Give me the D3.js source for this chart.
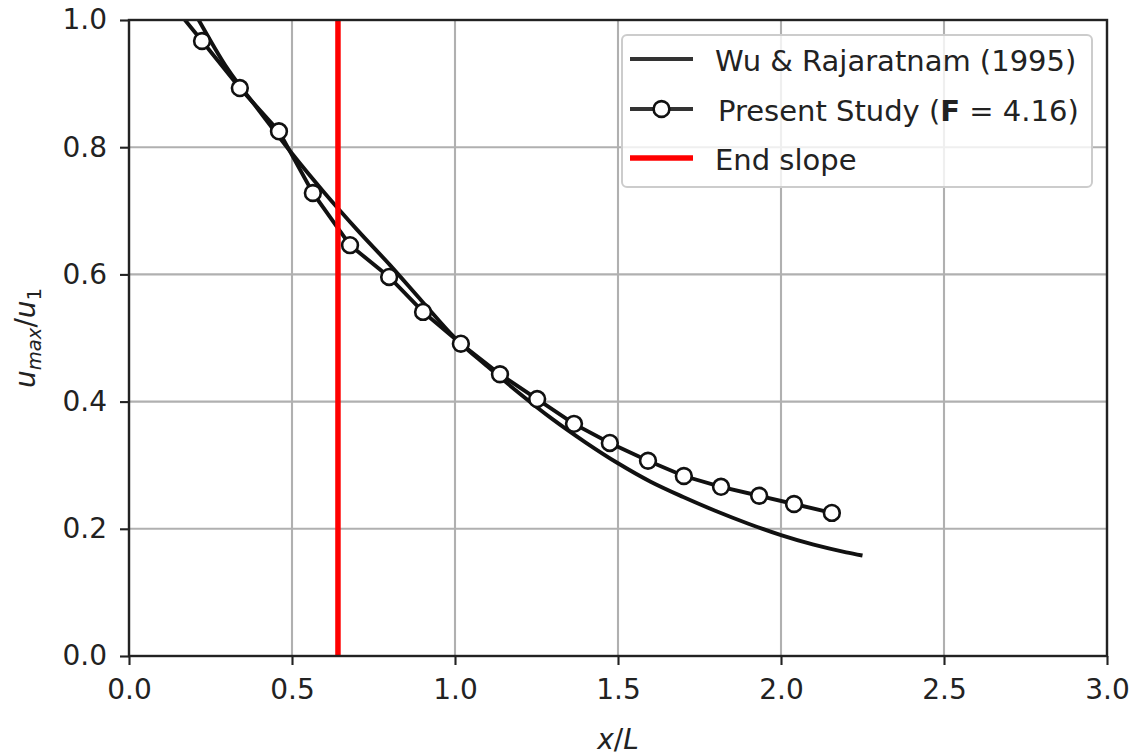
<!DOCTYPE html>
<html>
<head>
<meta charset="utf-8">
<script src="https://cdn.jsdelivr.net/npm/d3@7"></script>
<style>
  html, body { margin: 0; padding: 0; background: #fff; }
  svg { display: block; }
  text { font-family: "DejaVu Sans", sans-serif; fill: #222; }
</style>
</head>
<body>
<svg id="chart" width="1134" height="756"></svg>
<script>
// ---- data ----
const xTicks = [0.0, 0.5, 1.0, 1.5, 2.0, 2.5, 3.0];
const yTicks = [0.0, 0.2, 0.4, 0.6, 0.8, 1.0];

const wuX = [0.15, 0.2, 0.3, 0.4, 0.5, 0.6, 0.7, 0.8, 0.9, 1.0, 1.1, 1.2, 1.3, 1.4, 1.5, 1.6, 1.7, 1.8, 1.9, 2.0, 2.1, 2.2, 2.25];
const wuY = [1.055, 1.012, 0.925, 0.857, 0.79, 0.728, 0.670, 0.615, 0.557, 0.500, 0.455, 0.412, 0.372, 0.336, 0.303, 0.274, 0.250, 0.228, 0.208, 0.190, 0.175, 0.163, 0.158];

const presX = [0.108, 0.224, 0.340, 0.460, 0.564, 0.678, 0.798, 0.902, 1.018, 1.138, 1.252, 1.365, 1.475, 1.592, 1.702, 1.816, 1.933, 2.040, 2.156];
const presY = [1.04, 0.967, 0.893, 0.825, 0.728, 0.646, 0.596, 0.541, 0.491, 0.443, 0.404, 0.365, 0.335, 0.307, 0.283, 0.266, 0.252, 0.239, 0.225];

const endSlopeX = 0.641;

const legendLabels = ["Wu & Rajaratnam (1995)", "Present Study", "End slope"];

// ---- layout ----
const svg = d3.select("#chart");
const L = 129, R = 1107, T = 20, B = 656;
const x = d3.scaleLinear().domain([0, 3]).range([L, R]);
const y = d3.scaleLinear().domain([0, 1]).range([B, T]);

svg.append("defs").append("clipPath").attr("id", "plotclip")
  .append("rect").attr("x", L).attr("y", T).attr("width", R - L).attr("height", B - T);

// grid
const grid = svg.append("g");
grid.selectAll(".gx").data(xTicks).join("line")
  .attr("x1", d => x(d)).attr("x2", d => x(d)).attr("y1", T).attr("y2", B)
  .attr("stroke", "#b0b0b0").attr("stroke-width", 2.1);
grid.selectAll(".gy").data(yTicks).join("line")
  .attr("y1", d => y(d)).attr("y2", d => y(d)).attr("x1", L).attr("x2", R)
  .attr("stroke", "#b0b0b0").attr("stroke-width", 2.1);

const plot = svg.append("g").attr("clip-path", "url(#plotclip)");

// Wu & Rajaratnam curve
const wuData = wuX.map((v, i) => [v, wuY[i]]);
const line = d3.line().x(d => x(d[0])).y(d => y(d[1]));
plot.append("path").datum(wuData)
  .attr("d", line.curve(d3.curveMonotoneX))
  .attr("fill", "none").attr("stroke", "#111").attr("stroke-width", 3.9);

// Present study
const presData = presX.map((v, i) => [v, presY[i]]);
plot.append("path").datum(presData)
  .attr("d", d3.line().x(d => x(d[0])).y(d => y(d[1])))
  .attr("fill", "none").attr("stroke", "#111").attr("stroke-width", 3.9);
plot.selectAll(".mk").data(presData).join("circle")
  .attr("cx", d => x(d[0])).attr("cy", d => y(d[1])).attr("r", 7.9)
  .attr("fill", "#fff").attr("stroke", "#111").attr("stroke-width", 2.6);

// End slope
plot.append("line")
  .attr("x1", x(endSlopeX)).attr("x2", x(endSlopeX)).attr("y1", y(0)).attr("y2", y(1))
  .attr("stroke", "#ff0000").attr("stroke-width", 5.5);

// axes
const fs = 28;
const xAxis = svg.append("g").attr("transform", `translate(0,${B})`)
  .call(d3.axisBottom(x).tickValues(xTicks).tickFormat(d3.format(".1f")).tickSize(9).tickPadding(14));
const yAxis = svg.append("g").attr("transform", `translate(${L},0)`)
  .call(d3.axisLeft(y).tickValues(yTicks).tickFormat(d3.format(".1f")).tickSize(9).tickPadding(13));
[xAxis, yAxis].forEach(a => {
  a.select(".domain").remove();
  a.selectAll(".tick line").attr("stroke", "#222").attr("stroke-width", 2.1);
  a.selectAll(".tick text").attr("font-size", fs).attr("font-family", "DejaVu Sans").attr("fill", "#222");
});

// spines
svg.append("rect").attr("x", L).attr("y", T).attr("width", R - L).attr("height", B - T)
  .attr("fill", "none").attr("stroke", "#222").attr("stroke-width", 2.4);

// axis labels
const xl = svg.append("text").attr("x", (L + R) / 2).attr("y", 749)
  .attr("text-anchor", "middle").attr("font-size", fs);
xl.append("tspan").attr("font-style", "italic").text("x");
xl.append("tspan").text("/");
xl.append("tspan").attr("font-style", "italic").text("L");

const yl = svg.append("text")
  .attr("transform", `translate(35,${(T + B) / 2}) rotate(-90)`)
  .attr("text-anchor", "middle").attr("font-size", fs);
yl.append("tspan").attr("font-style", "italic").text("u");
yl.append("tspan").attr("font-style", "italic").attr("font-size", fs * 0.7).attr("dy", 6).text("max");
yl.append("tspan").attr("dy", -6).text("/");
yl.append("tspan").attr("font-style", "italic").text("u");
yl.append("tspan").attr("font-size", fs * 0.7).attr("dy", 6).text("1");

// legend
const lfs = 29;
const lg = svg.append("g");
lg.append("rect").attr("x", 622).attr("y", 35).attr("width", 470).attr("height", 152)
  .attr("rx", 5).attr("fill", "rgba(255,255,255,0.8)").attr("stroke", "#cccccc").attr("stroke-width", 2);
const rows = [59, 109, 158];
lg.append("line").attr("x1", 630).attr("x2", 693).attr("y1", rows[0]).attr("y2", rows[0])
  .attr("stroke", "#333").attr("stroke-width", 3.9);
lg.append("line").attr("x1", 630).attr("x2", 693).attr("y1", rows[1]).attr("y2", rows[1])
  .attr("stroke", "#333").attr("stroke-width", 3.9);
lg.append("circle").attr("cx", 661.5).attr("cy", rows[1]).attr("r", 7.9)
  .attr("fill", "#fff").attr("stroke", "#111").attr("stroke-width", 2.6);
lg.append("line").attr("x1", 630).attr("x2", 693).attr("y1", rows[2]).attr("y2", rows[2])
  .attr("stroke", "#ff0000").attr("stroke-width", 5.5);

lg.append("text").attr("x", 715).attr("y", 71).attr("font-size", lfs).text(legendLabels[0]);
const t2 = lg.append("text").attr("x", 718).attr("y", 121).attr("font-size", lfs);
t2.append("tspan").text(legendLabels[1] + " (");
t2.append("tspan").attr("font-weight", "bold").text("F");
t2.append("tspan").text(" = 4.16)");
lg.append("text").attr("x", 715).attr("y", 170).attr("font-size", lfs).text(legendLabels[2]);
</script>
</body>
</html>
